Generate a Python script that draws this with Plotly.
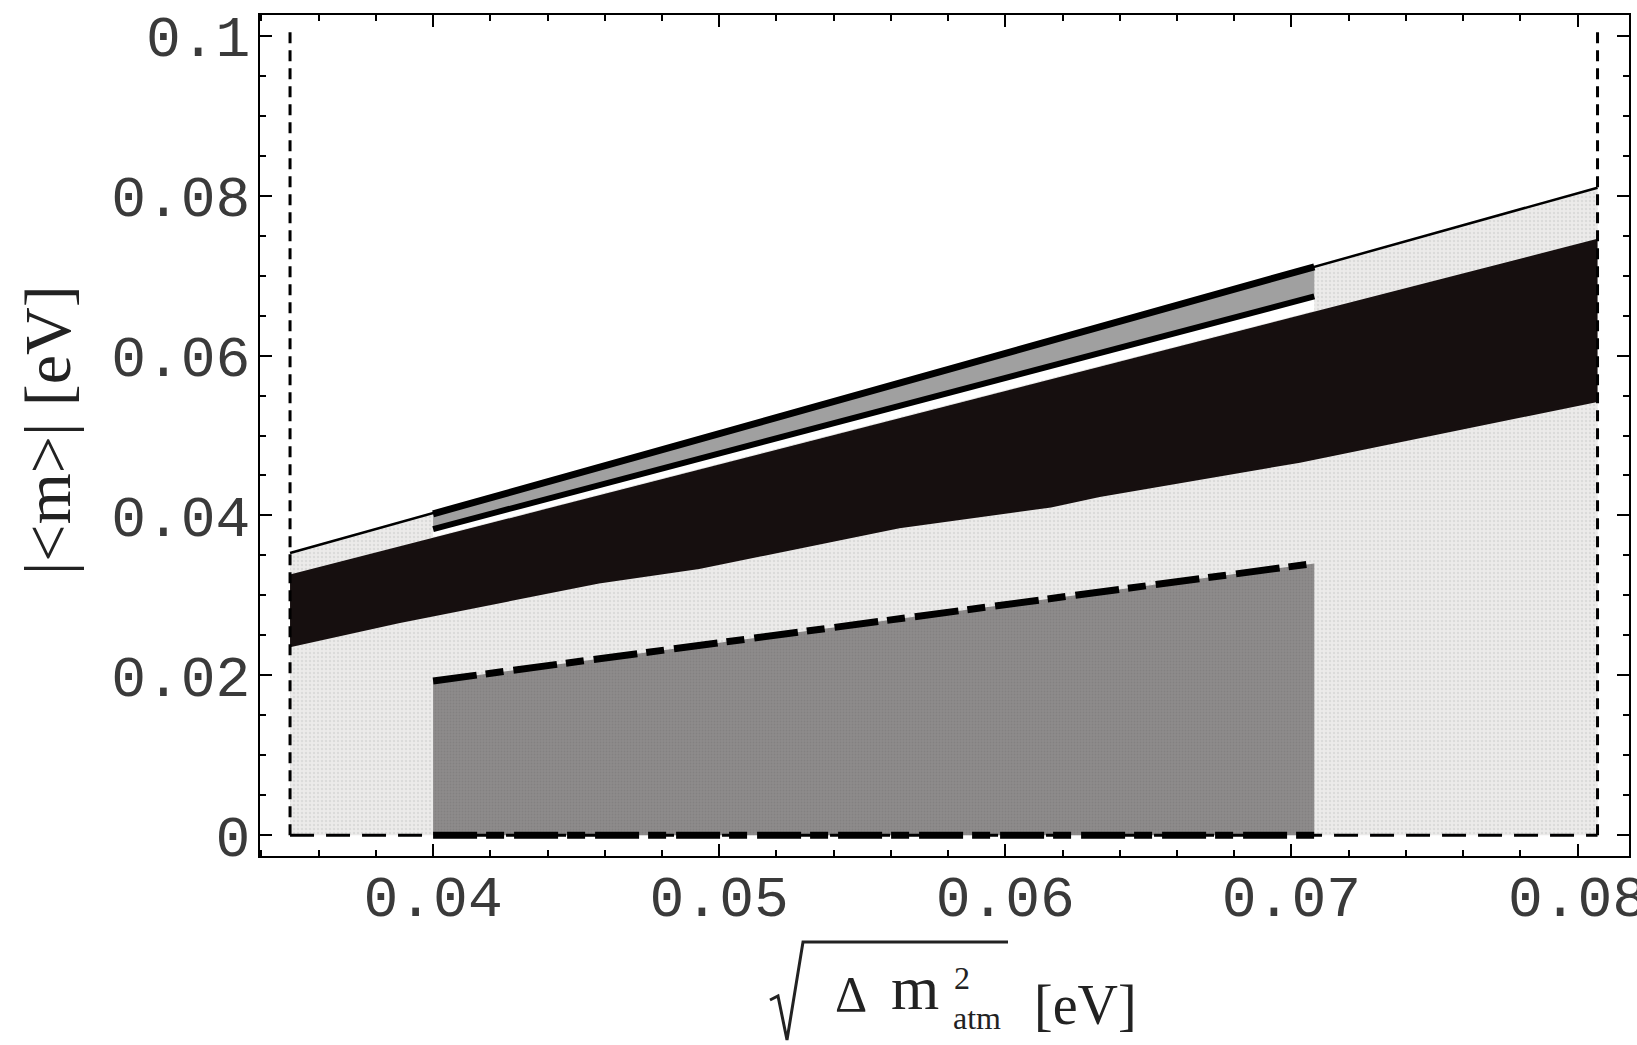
import plotly.graph_objects as go

# ---- data ----
box_x = [0.035, 0.0807]            # dashed box left/right
box_top = 0.1005
top_line_x = [0.035, 0.0807]
top_line_y = [0.0353, 0.0810]

band_top_x = [0.035, 0.0807]
band_top_y = [0.0326, 0.0746]
band_bot_x = [0.035, 0.0388, 0.0458, 0.0493, 0.0563, 0.0616, 0.0633, 0.0703, 0.0807]
band_bot_y = [0.0235, 0.0265, 0.0315, 0.0333, 0.0384, 0.0410, 0.0423, 0.0466, 0.0542]

seg_x = [0.040, 0.0708]            # inner segment (gray stripe / rectangle)
seg_top_y = [0.0402, 0.0711]       # thick upper line
seg_low_y = [0.0383, 0.0674]       # lower black line
seg_band_y = [0.0373, 0.0656]      # band top inside segment
rect_top_y = [0.0193, 0.0340]      # dash-dot line on top of gray rectangle

x_ticks = [0.04, 0.05, 0.06, 0.07, 0.08]
x_ticktext = ["0.04", "0.05", "0.06", "0.07", "0.08"]
y_ticks = [0, 0.02, 0.04, 0.06, 0.08, 0.1]
y_ticktext = ["0", "0.02", "0.04", "0.06", "0.08", "0.1"]

LIGHT = "#ecebea"
BAND = "#160f0f"
GRAY = "#8d8b8b"
STRIPE = "#a0a0a0"

fig = go.Figure()

def poly(xs, ys, color, pattern=None):
    kw = {}
    if pattern:
        kw["fillpattern"] = pattern
    fig.add_trace(go.Scatter(x=xs + [xs[0]], y=ys + [ys[0]], mode="lines", fill="toself",
                             fillcolor=color, line=dict(width=0, color=color),
                             hoverinfo="skip", showlegend=False, **kw))

def line(xs, ys, width, dash="solid", color="black"):
    fig.add_trace(go.Scatter(x=xs, y=ys, mode="lines",
                             line=dict(color=color, width=width, dash=dash),
                             hoverinfo="skip", showlegend=False))

# light stippled region below the top line
poly([top_line_x[0], top_line_x[1], top_line_x[1], top_line_x[0]],
     [0, 0, top_line_y[1], top_line_y[0]], LIGHT,
     pattern=dict(shape=".", size=4, solidity=0.3, fgcolor="#c9c9c9", bgcolor=LIGHT))

# gray rectangle
poly([seg_x[0], seg_x[1], seg_x[1], seg_x[0]], [0, 0, rect_top_y[1], rect_top_y[0]], GRAY,
     pattern=dict(shape=".", size=3, solidity=0.3, fgcolor="#7a7878", bgcolor=GRAY))

# black band
poly(band_top_x + band_bot_x[::-1], band_top_y + band_bot_y[::-1], BAND)

# gray stripe and white gap inside segment
poly([seg_x[0], seg_x[1], seg_x[1], seg_x[0]],
     [seg_low_y[0], seg_low_y[1], seg_top_y[1], seg_top_y[0]], STRIPE)
poly([seg_x[0], seg_x[1], seg_x[1], seg_x[0]],
     [seg_band_y[0], seg_band_y[1], seg_low_y[1], seg_low_y[0]], "white")

# lines
line(top_line_x, top_line_y, 2.5)
line(seg_x, seg_top_y, 7)
line(seg_x, seg_low_y, 6)

# dashed box
line([box_x[0], box_x[0]], [0, box_top], 3, dash="11px,7px")
line([box_x[1], box_x[1]], [0, box_top], 3, dash="11px,7px")
line(box_x, [0, 0], 3, dash="24px,12px")

# dash-dot thick lines
line(seg_x, rect_top_y, 7, dash="44px,9px,18px,10px")
line(seg_x, [0, 0], 7, dash="44px,9px,18px,10px")

W, H = 1637, 1045
L, R, T, B = 260, 8, 15, 189
pw, ph = W - L - R, H - T - B

def px(x):
    return (x - L) / pw

def py(y):
    return (H - B - y) / ph

axis_common = dict(showline=True, linecolor="black", linewidth=2, mirror="ticks",
                   ticks="inside", ticklen=12, tickwidth=2, tickcolor="black",
                   showgrid=False, zeroline=False, ticklabeloverflow="allow",
                   automargin=False,
                   tickfont=dict(family="Liberation Mono", size=58, color="#3a3a3a"))

fig.update_layout(
    width=W, height=H,
    margin=dict(l=L, r=R, t=T, b=B, autoexpand=False),
    plot_bgcolor="white", paper_bgcolor="white",
    xaxis=dict(range=[0.03395, 0.0818], tickvals=x_ticks, ticktext=x_ticktext,
               minor=dict(dtick=0.002, tick0=0, ticks="inside", ticklen=6, tickwidth=1.5,
                          tickcolor="black"),
               ticklabelstandoff=-12, **axis_common),
    yaxis=dict(range=[-0.0026, 0.1026], tickvals=y_ticks, ticktext=y_ticktext,
               minor=dict(dtick=0.005, tick0=0, ticks="inside", ticklen=6, tickwidth=1.5,
                          tickcolor="black"),
               ticklabelstandoff=-4, **axis_common),
)

serif = "Liberation Serif"
TC = "#222"
ann = []
ann.append(dict(text="|&lt;m&gt;| [eV]", x=px(47), y=py(430), xref="paper", yref="paper",
                xanchor="center", yanchor="middle",
                showarrow=False, textangle=-90, font=dict(family=serif, size=66, color=TC)))
ann.append(dict(text="Δ", x=px(851), y=py(1024), xref="paper", yref="paper",
                xanchor="center", yanchor="bottom", showarrow=False,
                font=dict(family=serif, size=50, color=TC)))
ann.append(dict(text="m", x=px(915), y=py(1024), xref="paper", yref="paper",
                xanchor="center", yanchor="bottom", showarrow=False,
                font=dict(family=serif, size=62, color=TC)))
ann.append(dict(text="2", x=px(962), y=py(998), xref="paper", yref="paper",
                xanchor="center", yanchor="bottom", showarrow=False,
                font=dict(family=serif, size=32, color=TC)))
ann.append(dict(text="atm", x=px(977), y=py(1038), xref="paper", yref="paper",
                xanchor="center", yanchor="bottom", showarrow=False,
                font=dict(family=serif, size=32, color=TC)))
ann.append(dict(text="[eV]", x=px(1085), y=py(1038), xref="paper", yref="paper",
                xanchor="center", yanchor="bottom", showarrow=False,
                font=dict(family=serif, size=56, color=TC)))
fig.update_layout(annotations=ann)

# radical sign with overline
path = "M {} {} L {} {} L {} {} L {} {} L {} {}".format(
    px(770), py(1000), px(778), py(996), px(787), py(1040), px(803), py(942), px(1008), py(942))
fig.add_shape(type="path", path=path, xref="paper", yref="paper",
              line=dict(color=TC, width=3))

fig.write_html("out.html")
